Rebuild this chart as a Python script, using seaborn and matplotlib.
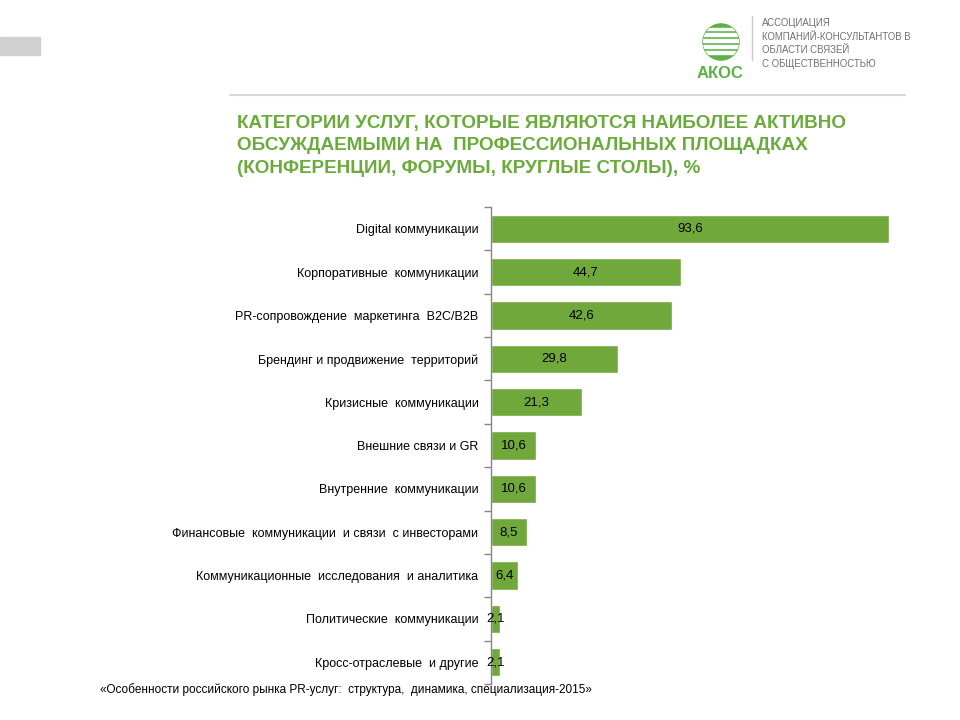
import numpy as np
import pandas as pd
import matplotlib
matplotlib.use('Agg')
import matplotlib.pyplot as plt
import matplotlib.patches as mpatches
import seaborn as sns

sns.set_theme(style='white')
plt.rcParams['font.family'] = ['Liberation Sans', 'DejaVu Sans']

categories = ['Digital коммуникации',
              'Корпоративные  коммуникации',
              'PR-сопровождение  маркетинга  B2C/B2B',
              'Брендинг и продвижение  территорий',
              'Кризисные  коммуникации',
              'Внешние связи и GR',
              'Внутренние  коммуникации',
              'Финансовые  коммуникации  и связи  с инвесторами',
              'Коммуникационные  исследования  и аналитика',
              'Политические  коммуникации',
              'Кросс-отраслевые  и другие']
values = [93.6, 44.7, 42.6, 29.8, 21.3, 10.6, 10.6, 8.5, 6.4, 2.1, 2.1]

title = ('КАТЕГОРИИ УСЛУГ, КОТОРЫЕ ЯВЛЯЮТСЯ НАИБОЛЕЕ АКТИВНО\n'
         'ОБСУЖДАЕМЫМИ НА  ПРОФЕССИОНАЛЬНЫХ ПЛОЩАДКАХ\n'
         '(КОНФЕРЕНЦИИ, ФОРУМЫ, КРУГЛЫЕ СТОЛЫ), %')
source = '«Особенности российского рынка PR-услуг:  структура,  динамика, специализация-2015»'
org_text = 'АССОЦИАЦИЯ\nКОМПАНИЙ-КОНСУЛЬТАНТОВ В\nОБЛАСТИ СВЯЗЕЙ\nС ОБЩЕСТВЕННОСТЬЮ'

bar_color = '#70a83c'
title_color = '#6aab3b'

df = pd.DataFrame({'category': categories, 'value': values})

fig = plt.figure(figsize=(9.6, 7.2), dpi=100)
ax = fig.add_axes([491 / 960, 1 - 684 / 720, 425 / 960, 477 / 720])

sns.barplot(data=df, x='value', y='category', color=bar_color, width=0.65,
            saturation=1, ax=ax)

ax.set_xlim(0, 100)
ax.set_ylim(len(values) - 0.5, -0.5)
ax.set_xlabel('')
ax.set_ylabel('')
ax.set_xticks([])
for side in ['top', 'right', 'bottom']:
    ax.spines[side].set_visible(False)
ax.spines['left'].set_color('#868686')
ax.spines['left'].set_linewidth(1.0)

ax.set_yticks(range(len(categories)))
ax.set_yticklabels(categories, fontsize=9, color='black')
ax.tick_params(axis='y', which='major', length=0, pad=9)
ax.set_yticks(np.arange(-0.5, len(values), 1.0), minor=True)
ax.tick_params(axis='y', which='minor', length=5, color='#868686', width=1, left=True)

for i, v in enumerate(values):
    ax.text(v / 2, i, f'{v:.1f}'.replace('.', ','), ha='center', va='center',
            fontsize=9.5, color='black')

fig.text(237 / 960, 1 - 115 / 720, title, ha='left', va='top', fontsize=13.6,
         fontweight='bold', color=title_color, linespacing=1.42)

fig.text(100 / 960, 1 - 690 / 720, source, ha='left', va='center', fontsize=8.5,
         color='black')

# header decorations
fig.patches.append(mpatches.Rectangle((0, 1 - 55 / 720), 40 / 960, 18 / 720,
                                      transform=fig.transFigure, color='#d0d0d0', zorder=0))
fig.lines.append(plt.Line2D([230 / 960, 905 / 960], [1 - 95 / 720, 1 - 95 / 720],
                            transform=fig.transFigure, color='#d9d9d9', lw=1.5))

# logo
lax = fig.add_axes([702 / 960, 1 - 61 / 720, 38 / 960, 38 / 720])
lax.set_xlim(-1, 1)
lax.set_ylim(-1, 1)
lax.set_aspect('equal')
lax.axis('off')
circ = mpatches.Circle((0, 0), 0.95, color='#5cb146')
lax.add_patch(circ)
for y0 in [-0.62, -0.3, 0.02, 0.34, 0.62]:
    stripe = mpatches.Rectangle((-1, y0), 2, 0.12, color='white', transform=lax.transData)
    lax.add_patch(stripe)
    stripe.set_clip_path(circ)
fig.text(720 / 960, 1 - 74 / 720, 'АКОС', ha='center', va='center', fontsize=12,
         fontweight='bold', color='#5cb146')
fig.lines.append(plt.Line2D([752 / 960, 752 / 960], [1 - 16 / 720, 1 - 60 / 720],
                            transform=fig.transFigure, color='#c8c8c8', lw=1))
fig.text(762 / 960, 1 - 18 / 720, org_text, ha='left', va='top', fontsize=6.9,
         color='#707070', linespacing=1.45)

fig.savefig('out.png', dpi=100)
